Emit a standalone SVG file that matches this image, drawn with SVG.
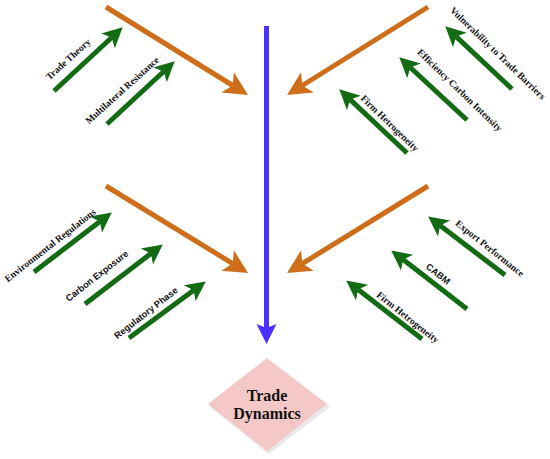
<svg xmlns="http://www.w3.org/2000/svg" width="550" height="459" viewBox="0 0 550 459">
<style>
.g{stroke:#136B13;stroke-width:5;fill:none;marker-end:url(#mg)}
.o{stroke:#CF6E1A;stroke-width:5;fill:none;marker-end:url(#mo)}
.b{stroke:#4A30FF;stroke-width:5;fill:none;marker-end:url(#mb)}
.s{font-family:"Liberation Serif","Times New Roman",serif;font-weight:bold;font-size:9.6px;fill:#111;text-anchor:middle;dominant-baseline:central}
.a{font-family:"Liberation Sans",Arial,sans-serif;font-weight:bold;font-size:9.2px;fill:#111;text-anchor:middle;dominant-baseline:central}
.t{font-family:"Liberation Serif","Times New Roman",serif;font-weight:bold;font-size:16px;fill:#111;text-anchor:middle}
</style>
<defs>
<marker id="mg" markerUnits="userSpaceOnUse" markerWidth="40" markerHeight="40" viewBox="-10 -20 40 40" refX="0" refY="0" orient="auto">
<path d="M-5,-10 L15,0 L-5,10 L0,0 Z" fill="#136B13"/>
</marker>
<marker id="mo" markerUnits="userSpaceOnUse" markerWidth="50" markerHeight="50" viewBox="-15 -25 50 50" refX="0" refY="0" orient="auto">
<path d="M-6,-12 L18,0 L-6,12 L0,0 Z" fill="#CF6E1A"/>
</marker>
<marker id="mb" markerUnits="userSpaceOnUse" markerWidth="50" markerHeight="50" viewBox="-15 -25 50 50" refX="0" refY="0" orient="auto">
<path d="M-4,-10 L16,0 L-4,10 L0,0 Z" fill="#4A30FF"/>
</marker>
</defs>
<g id="connectors">
<line class="b" x1="266.5" y1="26" x2="266.5" y2="328"/>
<line class="o" x1="106" y1="7" x2="232.7" y2="85.5"/>
<line class="o" x1="428" y1="7" x2="302.3" y2="85.5"/>
<line class="o" x1="106" y1="186" x2="232.7" y2="263.6"/>
<line class="o" x1="428" y1="186" x2="302.3" y2="263.6"/>
<line class="g" x1="54" y1="91" x2="111.7" y2="37.5"/>
<line class="g" x1="107" y1="124" x2="163.7" y2="71.5"/>
<line class="g" x1="407" y1="153" x2="350.2" y2="99.6"/>
<line class="g" x1="467" y1="120" x2="410.3" y2="67.5"/>
<line class="g" x1="512" y1="89" x2="456.2" y2="36.6"/>
<line class="g" x1="34" y1="272" x2="99.9" y2="221.5"/>
<line class="g" x1="85" y1="304" x2="150.9" y2="253.5"/>
<line class="g" x1="129" y1="338" x2="193.7" y2="290.3"/>
<line class="g" x1="505" y1="275" x2="440.1" y2="225.5"/>
<line class="g" x1="467" y1="309" x2="403.1" y2="259.6"/>
<line class="g" x1="422" y1="339" x2="358.1" y2="289.6"/>
</g>
<g id="label-trade-theory"><text class="s" transform="translate(68,59) rotate(-42)">Trade Theory</text></g>
<g id="label-multilateral"><text class="s" transform="translate(122,90) rotate(-42)">Multilateral Resistance</text></g>
<g id="label-firm-het-top"><text class="s" transform="translate(390,123) rotate(44)">Firm Hetrogeneity</text></g>
<g id="label-efficiency"><text class="s" transform="translate(460,90) rotate(44)">Efficiency Carbon Intensity</text></g>
<g id="label-vulnerability"><text class="s" transform="translate(498,53) rotate(44)">Vulnerability to Trade Barriers</text></g>
<g id="label-env-reg"><text class="s" transform="translate(50,245) rotate(-38)">Environmental Regulations</text></g>
<g id="label-carbon-exp"><text class="a" transform="translate(97,276) rotate(-38)">Carbon Exposure</text></g>
<g id="label-reg-phase"><text class="a" transform="translate(146,313) rotate(-38)">Regulatory Phase</text></g>
<g id="label-export"><text class="s" transform="translate(490,248) rotate(38.5)">Export Performance</text></g>
<g id="label-cabm"><text class="a" transform="translate(438,274) rotate(38.5)">CABM</text></g>
<g id="label-firm-het-bottom"><text class="s" transform="translate(408,317) rotate(38.5)">Firm Hetrogeneity</text></g>
<g id="trade-dynamics">
<polygon points="269,360 330,407 269,454 210,407" fill="#d8d8d8" opacity="0.6"/>
<polygon points="267,358 327,404 267,451 208,404" fill="#F5C8C8"/>
<text class="t" x="267" y="401">Trade</text>
<text class="t" x="267" y="419">Dynamics</text>
</g>
</svg>
